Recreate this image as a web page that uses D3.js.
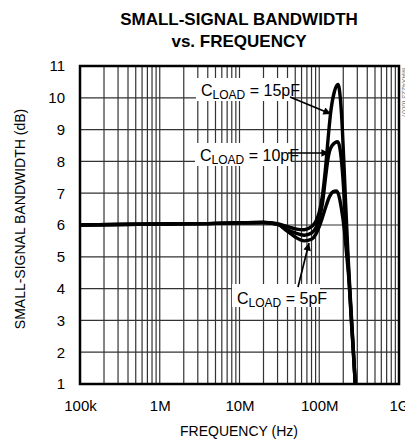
<!DOCTYPE html>
<html>
<head>
<meta charset="utf-8">
<script src="https://cdn.jsdelivr.net/npm/d3@7"></script>
<style>
  body { margin: 0; background: #fff; }
  text { font-family: "Liberation Sans Narrow", "Arial Narrow", "Liberation Sans", sans-serif; }
</style>
</head>
<body>
<div id="chart"></div>
<script>
// frequency (Hz) and gain (dB)
var freq5  = [1e5, 1e6, 5e6, 1e7, 2e7, 3e7, 4e7, 5e7, 6.5e7, 8e7, 9e7, 1e8, 1.1e8, 1.2e8, 1.35e8, 1.5e8, 1.63e8, 1.75e8, 1.9e8, 2.05e8, 2.2e8, 2.35e8, 2.55e8, 2.83e8, 3.1e8];
var gain5  = [6.0, 6.03, 6.05, 6.07, 6.08, 6.02, 5.8, 5.62, 5.5, 5.55, 5.7, 5.95, 6.25, 6.55, 6.9, 7.05, 7.07, 6.95, 6.5, 5.9, 5.1, 4.3, 2.8, 1.0, -1.0];

var freq10 = [1e5, 1e6, 5e6, 1e7, 2e7, 3e7, 4e7, 5e7, 6.5e7, 8e7, 9e7, 1e8, 1.1e8, 1.2e8, 1.3e8, 1.45e8, 1.7e8, 1.82e8, 1.95e8, 2.05e8, 2.15e8, 2.3e8, 2.55e8, 2.83e8, 3.1e8];
var gain10 = [6.0, 6.03, 6.05, 6.07, 6.08, 6.03, 5.85, 5.75, 5.68, 5.75, 5.9, 6.2, 6.7, 7.5, 8.15, 8.5, 8.62, 8.4, 7.7, 6.9, 6.0, 4.8, 2.9, 1.0, -1.0];

var freq15 = [1e5, 1e6, 5e6, 1e7, 2e7, 3e7, 4e7, 5e7, 6.5e7, 8e7, 9e7, 1e8, 1.1e8, 1.2e8, 1.3e8, 1.4e8, 1.55e8, 1.72e8, 1.85e8, 1.95e8, 2.05e8, 2.15e8, 2.3e8, 2.55e8, 2.83e8, 3.1e8];
var gain15 = [6.0, 6.03, 6.05, 6.07, 6.08, 6.04, 5.95, 5.88, 5.85, 5.95, 6.1, 6.4, 6.95, 7.8, 8.8, 9.6, 10.2, 10.42, 9.9, 9.0, 7.8, 6.6, 5.0, 3.0, 1.0, -1.0];

var xTicks = [1e5, 1e6, 1e7, 1e8, 1e9];
var xTickLabels = ["100k", "1M", "10M", "100M", "1G"];
var yTicks = [1, 2, 3, 4, 5, 6, 7, 8, 9, 10, 11];

var width = 405, height = 442;
var mLeft = 80, mRight = 399, mTop = 66, mBottom = 384;

var svg = d3.select("#chart").append("svg")
	.attr("width", width)
	.attr("height", height);

var x = d3.scaleLog().domain([1e5, 1e9]).range([mLeft, mRight]);
var y = d3.scaleLinear().domain([1, 11]).range([mBottom, mTop]);

// title
svg.append("text")
	.attr("x", 239).attr("y", 25)
	.attr("text-anchor", "middle")
	.attr("font-size", 17).attr("font-weight", "bold")
	.text("SMALL-SIGNAL BANDWIDTH");
svg.append("text")
	.attr("x", 239).attr("y", 47)
	.attr("text-anchor", "middle")
	.attr("font-size", 17).attr("font-weight", "bold")
	.text("vs. FREQUENCY");

// grid
var gridX = [];
for (var e = 5; e < 9; e++) {
	for (var k = 1; k < 10; k++) gridX.push(k * Math.pow(10, e));
}
svg.append("g").selectAll("line")
	.data(gridX).enter()
	.append("line")
	.attr("x1", function(d) { return x(d); })
	.attr("x2", function(d) { return x(d); })
	.attr("y1", mTop).attr("y2", mBottom)
	.attr("stroke", "#333")
	.attr("stroke-width", 1.2);

svg.append("g").selectAll("line")
	.data(yTicks).enter()
	.append("line")
	.attr("x1", mLeft).attr("x2", mRight)
	.attr("y1", function(d) { return y(d); })
	.attr("y2", function(d) { return y(d); })
	.attr("stroke", "#333")
	.attr("stroke-width", 1.2);

// axes (labels only)
var xAxis = d3.axisBottom(x).tickValues(xTicks)
	.tickFormat(function(d, i) { return xTickLabels[i]; })
	.tickSize(0).tickPadding(16);
var gx = svg.append("g").attr("transform", "translate(0," + mBottom + ")").call(xAxis);
gx.select(".domain").remove();
gx.selectAll("text").attr("font-size", 15).attr("fill", "#000")
	.style("font-family", "'Liberation Sans Narrow', 'Liberation Sans', sans-serif");

var yAxis = d3.axisLeft(y).tickValues(yTicks).tickFormat(d3.format("d"))
	.tickSize(0).tickPadding(15);
var gy = svg.append("g").attr("transform", "translate(" + mLeft + ",0)").call(yAxis);
gy.select(".domain").remove();
gy.selectAll("text").attr("font-size", 15).attr("fill", "#000")
	.style("font-family", "'Liberation Sans Narrow', 'Liberation Sans', sans-serif");

svg.append("text")
	.attr("x", 239).attr("y", 436)
	.attr("text-anchor", "middle")
	.attr("font-size", 14)
	.text("FREQUENCY (Hz)");
svg.append("text")
	.attr("transform", "translate(25,219) rotate(-90)")
	.attr("text-anchor", "middle")
	.attr("font-size", 14)
	.text("SMALL-SIGNAL BANDWIDTH (dB)");

// side code
svg.append("text")
	.attr("transform", "translate(402,68) rotate(90)")
	.attr("font-size", 7)
	.attr("fill", "#777")
	.text("MAX4223 toc07");

// curves
svg.append("clipPath").attr("id", "clip")
	.append("rect").attr("x", mLeft).attr("y", mTop)
	.attr("width", mRight - mLeft).attr("height", mBottom - mTop);

var line = d3.line()
	.x(function(d) { return x(d[0]); })
	.y(function(d) { return y(d[1]); })
	.curve(d3.curveMonotoneX);

var series = [d3.zip(freq5, gain5), d3.zip(freq10, gain10), d3.zip(freq15, gain15)];
svg.append("g").attr("clip-path", "url(#clip)")
	.selectAll("path")
	.data(series).enter()
	.append("path")
	.attr("d", line)
	.attr("fill", "none")
	.attr("stroke", "#000")
	.attr("stroke-width", 3.4);

// frame
svg.append("rect")
	.attr("x", mLeft).attr("y", mTop)
	.attr("width", mRight - mLeft).attr("height", mBottom - mTop)
	.attr("fill", "none")
	.attr("stroke", "#000")
	.attr("stroke-width", 2.5);

// annotations
var notes = [
	{ label: "15pF", tx: 201, ty: 96, bx: 196, by: 78, bw: 96, tail: [290, 97], tip: [331, 114] },
	{ label: "10pF", tx: 200, ty: 161, bx: 195, by: 143, bw: 96, tail: [288, 153], tip: [329, 153] },
	{ label: "5pF",  tx: 237, ty: 304, bx: 232, by: 284, bw: 88, tail: [298, 287], tip: [309, 243] }
];

svg.append("defs").append("marker")
	.attr("id", "arrow")
	.attr("viewBox", "0 0 10 10")
	.attr("refX", 10).attr("refY", 5)
	.attr("markerWidth", 7).attr("markerHeight", 4.5)
	.attr("orient", "auto")
	.attr("markerUnits", "strokeWidth")
	.append("path").attr("d", "M0,0L10,5L0,10z").attr("fill", "#000");

var g = svg.append("g");
notes.forEach(function(n) {
	g.append("rect")
		.attr("x", n.bx).attr("y", n.by)
		.attr("width", n.bw).attr("height", 23)
		.attr("fill", "#fff");
	g.append("line")
		.attr("x1", n.tail[0]).attr("y1", n.tail[1])
		.attr("x2", n.tip[0]).attr("y2", n.tip[1])
		.attr("stroke", "#000").attr("stroke-width", 1.7)
		.attr("marker-end", "url(#arrow)");
	var t = g.append("text")
		.attr("x", n.tx).attr("y", n.ty)
		.attr("font-size", 16);
	t.append("tspan").text("C");
	t.append("tspan").attr("font-size", 12).attr("dy", 3).text("LOAD");
	t.append("tspan").attr("dy", -3).text(" = " + n.label);
});
</script>
</body>
</html>
